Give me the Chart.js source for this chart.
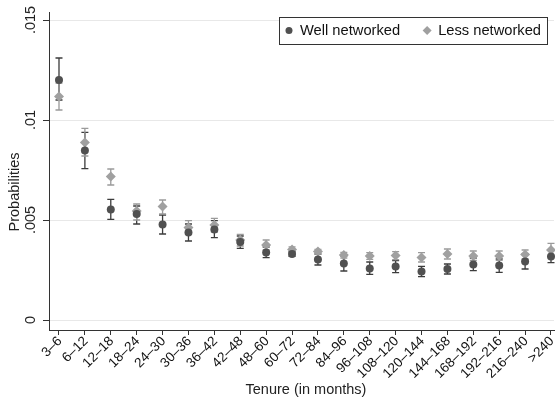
<!DOCTYPE html>
<html>
<head>
<meta charset="utf-8">
<script src="https://cdn.jsdelivr.net/npm/chart.js@4.4.1/dist/chart.umd.min.js"></script>
<style>
  html, body { margin: 0; padding: 0; background: #fff; }
</style>
</head>
<body>
<canvas id="chart" width="555" height="405"></canvas>
<script>
// ===== DATA =====
let tenure = ["3–6", "6–12", "12–18", "18–24", "24–30", "30–36", "36–42", "42–48", "48–60", "60–72",
  "72–84", "84–96", "96–108", "108–120", "120–144", "144–168", "168–192", "192–216", "216–240", ">240"];

let wellProb = [0.0120, 0.00847, 0.00553, 0.00530, 0.00478, 0.00437, 0.00453, 0.00390, 0.00338, 0.00330,
  0.00303, 0.00283, 0.00258, 0.00267, 0.00242, 0.00255, 0.00278, 0.00272, 0.00292, 0.00317];
let wellLow = [0.0110, 0.00757, 0.00503, 0.00480, 0.00430, 0.00395, 0.00412, 0.00358, 0.00312, 0.00318,
  0.00275, 0.00245, 0.00228, 0.00237, 0.00217, 0.00230, 0.00247, 0.00238, 0.00255, 0.00287];
let wellHigh = [0.0131, 0.00938, 0.00603, 0.00570, 0.00525, 0.00480, 0.00497, 0.00420, 0.00365, 0.00342,
  0.00330, 0.00320, 0.00290, 0.00297, 0.00268, 0.00280, 0.00310, 0.00305, 0.00330, 0.00350];

let lessProb = [0.01117, 0.00888, 0.00717, 0.00545, 0.00567, 0.00463, 0.00475, 0.00400, 0.00375, 0.00353,
  0.00342, 0.00325, 0.00320, 0.00322, 0.00313, 0.00330, 0.00320, 0.00320, 0.00328, 0.00350];
let lessLow = [0.0105, 0.00820, 0.00675, 0.00500, 0.00530, 0.00430, 0.00440, 0.00370, 0.00350, 0.00340,
  0.00330, 0.00310, 0.00303, 0.00302, 0.00290, 0.00305, 0.00298, 0.00298, 0.00305, 0.00318];
let lessHigh = [0.01184, 0.00958, 0.00755, 0.00580, 0.00600, 0.00497, 0.00508, 0.00428, 0.00400, 0.00366,
  0.00353, 0.00338, 0.00337, 0.00342, 0.00337, 0.00355, 0.00345, 0.00345, 0.00350, 0.00383];

let yTicks = [0, 0.005, 0.01, 0.015];
let yTickLabels = ["0", ".005", ".01", ".015"];

let seriesNames = ["Well networked", "Less networked"];
let xTitle = "Tenure (in months)";
let yTitle = "Probabilities";

const FONT = "'Liberation Sans', Arial, sans-serif";
const DARK = "#505050";
const LIGHT = "#a0a0a0";

function toPoints(vals) {
  return vals.map((v, i) => ({ x: i, y: v }));
}

// ===== ERROR BARS =====
const errorBars = {
  id: "errorBars",
  beforeDatasetsDraw(chart) {
    let ctx = chart.ctx;
    let xs = chart.scales.x, ys = chart.scales.y;
    let sets = [[wellLow, wellHigh, "#3c3c3c"], [lessLow, lessHigh, "#9a9a9a"]];
    ctx.save();
    ctx.lineWidth = 1.3;
    sets.forEach(s => {
      ctx.strokeStyle = s[2];
      s[0].forEach((lo, i) => {
        let x = xs.getPixelForValue(i);
        let y1 = ys.getPixelForValue(lo);
        let y2 = ys.getPixelForValue(s[1][i]);
        ctx.beginPath();
        ctx.moveTo(x, y1); ctx.lineTo(x, y2);
        ctx.moveTo(x - 3.5, y1); ctx.lineTo(x + 3.5, y1);
        ctx.moveTo(x - 3.5, y2); ctx.lineTo(x + 3.5, y2);
        ctx.stroke();
      });
    });
    ctx.restore();
  }
};

// ===== TICK LABELS (rotated), TITLES, LEGEND BOX =====
const extras = {
  id: "extras",
  afterDraw(chart) {
    let ctx = chart.ctx;
    let xs = chart.scales.x, ys = chart.scales.y;
    ctx.save();
    ctx.fillStyle = "#222";
    ctx.font = "14.5px " + FONT;
    ctx.textAlign = "center";
    ctx.textBaseline = "middle";
    yTicks.forEach((v, i) => {
      ctx.save();
      ctx.translate(31, ys.getPixelForValue(v));
      ctx.rotate(-Math.PI / 2);
      ctx.fillText(yTickLabels[i], 0, 0);
      ctx.restore();
    });

    // x tick labels at 45 degrees
    ctx.save();
    ctx.font = "13.5px " + FONT;
    ctx.fillStyle = "#111";
    ctx.textAlign = "right";
    tenure.forEach((t, i) => {
      ctx.save();
      ctx.translate(xs.getPixelForValue(i) + 1, xs.top + 9);
      ctx.rotate(-Math.PI / 4);
      ctx.fillText(t, 0, 0);
      ctx.restore();
    });
    ctx.restore();

    // axis titles
    ctx.save();
    ctx.translate(15, 192);
    ctx.rotate(-Math.PI / 2);
    ctx.fillText(yTitle, 0, 0);
    ctx.restore();
    ctx.fillText(xTitle, 306, 390);

    // legend
    ctx.font = "14.7px " + FONT;
    let w1 = ctx.measureText(seriesNames[0]).width;
    let w2 = ctx.measureText(seriesNames[1]).width;
    let pad = 6;
    let boxW = pad + 8 + 7 + w1 + 27 - 4 + 8 + 7 + w2 + pad;
    let right = 547;
    let left = right - boxW;
    let top = 17;
    let h = 27;
    ctx.fillStyle = "#fff";
    ctx.fillRect(left, top, boxW, h);
    ctx.strokeStyle = "#333";
    ctx.lineWidth = 1;
    ctx.strokeRect(Math.round(left) + 0.5, top + 0.5, Math.round(boxW), h);
    let cy = top + h / 2;
    let cx1 = left + pad + 4;
    ctx.fillStyle = DARK;
    ctx.beginPath();
    ctx.arc(cx1, cy, 3.5, 0, Math.PI * 2);
    ctx.fill();
    ctx.fillStyle = "#111";
    ctx.textAlign = "left";
    ctx.fillText(seriesNames[0], cx1 + 11, cy + 0.5);
    let cx2 = cx1 + 11 + w1 + 27;
    ctx.fillStyle = LIGHT;
    ctx.beginPath();
    ctx.moveTo(cx2 - 4.5, cy); ctx.lineTo(cx2, cy - 4.5);
    ctx.lineTo(cx2 + 4.5, cy); ctx.lineTo(cx2, cy + 4.5);
    ctx.closePath();
    ctx.fill();
    ctx.fillStyle = "#111";
    ctx.fillText(seriesNames[1], cx2 + 11, cy + 0.5);
    ctx.restore();
  }
};

// ===== CHART =====
new Chart(document.getElementById("chart"), {
  type: "scatter",
  data: {
    datasets: [
      {
        label: seriesNames[0],
        data: toPoints(wellProb),
        pointStyle: "circle",
        pointRadius: 4,
        backgroundColor: DARK,
        borderWidth: 0,
        clip: false
      },
      {
        label: seriesNames[1],
        data: toPoints(lessProb),
        pointStyle: "rectRot",
        pointRadius: 5,
        backgroundColor: LIGHT,
        borderWidth: 0,
        clip: false
      }
    ]
  },
  options: {
    responsive: false,
    animation: false,
    devicePixelRatio: 1,
    layout: { autoPadding: false, padding: { top: 12, right: 1, bottom: 0, left: 0 } },
    plugins: {
      legend: { display: false },
      tooltip: { enabled: false }
    },
    scales: {
      x: {
        type: "linear",
        min: -0.386,
        max: 19.116,
        afterBuildTicks: s => { s.ticks = tenure.map((t, i) => ({ value: i })); },
        afterFit: s => { s.height = 75; },
        ticks: { display: false },
        grid: { drawOnChartArea: false, tickLength: 5, tickColor: "#333" },
        border: { color: "#333", width: 1 }
      },
      y: {
        min: -0.0005,
        max: 0.0154,
        afterBuildTicks: s => { s.ticks = yTicks.map(v => ({ value: v })); },
        afterFit: s => { s.width = 49; },
        ticks: { display: false },
        grid: { color: "#e8e8e8", tickLength: 6, tickColor: "#333" },
        border: { color: "#333", width: 1 }
      }
    }
  },
  plugins: [errorBars, extras]
});
</script>
</body>
</html>
